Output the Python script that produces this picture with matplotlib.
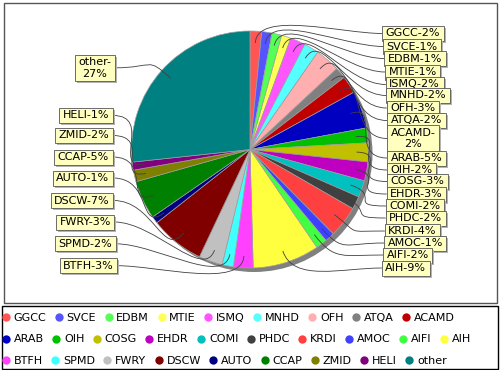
import matplotlib
matplotlib.use("Agg")
import matplotlib.pyplot as plt
from matplotlib.patches import Rectangle, Circle, PathPatch
from matplotlib.path import Path
from matplotlib.lines import Line2D
import numpy as np

# ---------------- data ----------------
names = ["GGCC", "SVCE", "EDBM", "MTIE", "ISMQ", "MNHD", "OFH", "ATQA", "ACAMD",
         "ARAB", "OIH", "COSG", "EHDR", "COMI", "PHDC", "KRDI", "AMOC", "AIFI", "AIH",
         "BTFH", "SPMD", "FWRY", "DSCW", "AUTO", "CCAP", "ZMID", "HELI", "other"]
values = [1.6, 1.4, 1.35, 1.28, 2.08, 2.05, 3.4, 1.55, 2.4,
          5.14, 2.03, 2.6, 2.6, 2.3, 1.78, 4.33, 1.33, 1.55, 9.17,
          2.7, 1.55, 3.25, 7.44, 0.97, 5.3, 1.6, 1.1, 26.9]
colors = ["#FF5555", "#5555FF", "#55FF55", "#FFFF55", "#FF55FF", "#55FFFF", "#FFAFAF", "#808080", "#C00000",
          "#0000C0", "#00C000", "#C0C000", "#C000C0", "#00C0C0", "#404040", "#FF4040", "#4040FF", "#40FF40", "#FFFF40",
          "#FF40FF", "#40FFFF", "#C0C0C0", "#800000", "#000080", "#008000", "#808000", "#800080", "#008080"]
legend_rows = [9, 10, 9]
wrapped = {"ACAMD", "other"}

# ---------------- layout (pixels, y from top) ----------------
W, H = 500, 370
CX, CY_TOP, R = 250.0, 149.5, 118.5
right_label_y = [33.5, 46.5, 58.5, 72, 84.5, 95.5, 108, 120.5, 138.5,
                 158, 170, 181.5, 194, 206, 218, 231, 243, 255, 268]
left_label_y = [265.7, 243.8, 222, 200.5, 178, 157, 135.5, 115.5, 67.8]  # BTFH..other

fig = plt.figure(figsize=(W / 100, H / 100), dpi=100)
ax = fig.add_axes([0, 0, 1, 1])
CY = H - CY_TOP

# shadow of pie
ax.add_patch(Circle((CX + 4, CY - 4), R, facecolor="#808080", edgecolor="none", zorder=1))
wedges, _ = ax.pie(values, colors=colors, startangle=90, counterclock=False,
                   center=(CX, CY), radius=R,
                   wedgeprops=dict(edgecolor="#a0a0a0", linewidth=0.5, zorder=2))
ax.set_xlim(0, W)
ax.set_ylim(0, H)
ax.set_aspect("auto")
ax.axis("off")

total = sum(values)
labels = []
for n, v in zip(names, values):
    p = int(np.floor(v / total * 100 + 0.5))
    labels.append(f"{n}-\n{p}%" if n in wrapped else f"{n}-{p}%")

# positions of label boxes
n_right = len(right_label_y)
targets = []
for i in range(len(names)):
    if i < n_right:
        ty = right_label_y[i]
        dy = (ty - CY_TOP) / 117.0
        x_edge = 387.5 - 5.5 * dy * dy
        targets.append(("R", x_edge, ty))
    else:
        ty = left_label_y[i - n_right]
        dy = (ty - CY_TOP) / 117.0
        x_edge = 112.5 + 5.0 * dy * dy
        targets.append(("L", x_edge, ty))

# links
for i, w in enumerate(wedges):
    mid = np.deg2rad((w.theta1 + w.theta2) / 2.0)
    u = np.array([np.cos(mid), np.sin(mid)])
    p0 = np.array([CX, CY]) + 0.9 * R * u
    p1 = np.array([CX, CY]) + 1.18 * R * u
    side, xe, ty = targets[i]
    yy = H - ty
    p2 = (xe - 40, yy) if side == "R" else (xe + 40, yy)
    p3 = (xe, yy)
    path = Path([tuple(p0), tuple(p1), p2, p3],
                [Path.MOVETO, Path.CURVE4, Path.CURVE4, Path.CURVE4])
    ax.add_patch(PathPatch(path, facecolor="none", edgecolor="#404040", lw=0.6, zorder=5))

# label texts
texts = []
order = list(range(n_right)) + list(range(len(names) - 1, n_right - 1, -1))
for k, i in enumerate(order):
    side, xe, ty = targets[i]
    z = 10 + k
    if side == "R":
        t = ax.text(xe + 3.5, H - ty, labels[i], ha="left", va="center", fontsize=8,
                    multialignment="center", zorder=z + 0.5, color="black")
    else:
        t = ax.text(xe - 3.5, H - ty, labels[i], ha="right", va="center", fontsize=8,
                    multialignment="center", zorder=z + 0.5, color="black")
    texts.append((t, z))

fig.canvas.draw()
renderer = fig.canvas.get_renderer()
for t, z in texts:
    bb = t.get_window_extent(renderer)
    x0, y0, w_, h_ = bb.x0 - 3.5, bb.y0 - 2.5, bb.width + 7, bb.height + 5.0
    ax.add_patch(Rectangle((x0 + 2, y0 - 2), w_, h_, facecolor="#b4b4b4", edgecolor="none", zorder=z))
    ax.add_patch(Rectangle((x0, y0), w_, h_, facecolor="#FFFFC0", edgecolor="#555555", lw=0.6, zorder=z + 0.2))

# borders
ax.add_patch(Rectangle((3.5, H - 302.5), 493.5, 300, facecolor="none", edgecolor="#555555", lw=1, zorder=50))
ax.add_patch(Rectangle((1.5, H - 368.5), 496, 62.5, facecolor="none", edgecolor="black", lw=1, zorder=50))

# legend rows
row_y = [318, 339.5, 360.5]
start = 0
for r, cnt in enumerate(legend_rows):
    idx = range(start, start + cnt)
    handles = [Line2D([], [], ls="", marker="o", markersize=6, markerfacecolor=colors[j],
                      markeredgewidth=0) for j in idx]
    fig.legend(handles, [names[j] for j in idx], loc="center left",
               bbox_to_anchor=(2 / W, 1 - row_y[r] / H), ncol=cnt, frameon=False,
               fontsize=8, handlelength=0.7, handletextpad=0.35, columnspacing=0.77,
               borderpad=0, borderaxespad=0, handleheight=0.7)
    start += cnt

fig.savefig("out.png", dpi=100)
